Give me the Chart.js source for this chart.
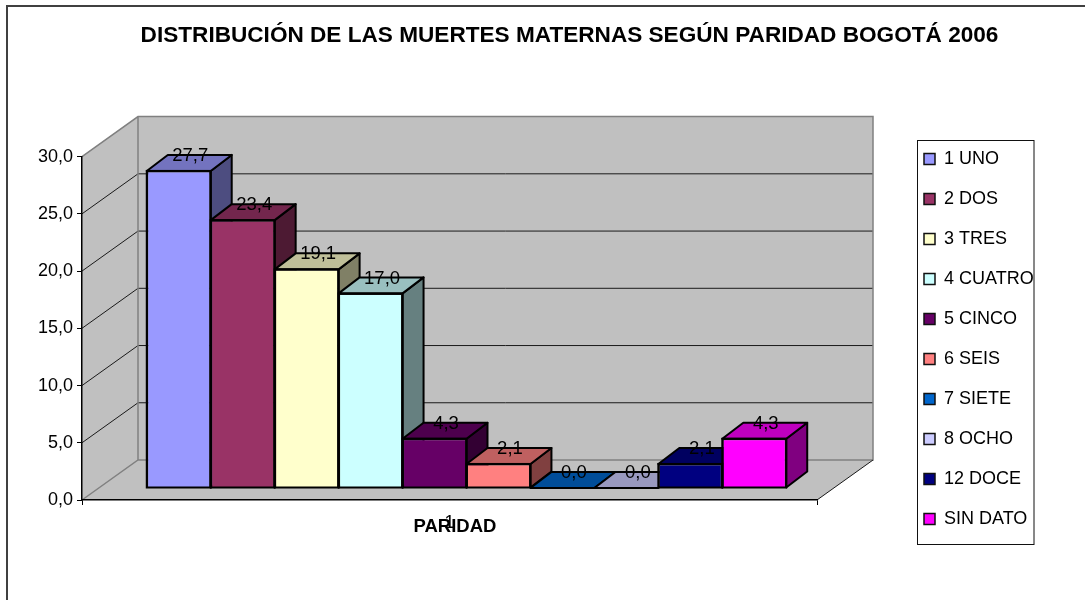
<!DOCTYPE html>
<html><head><meta charset="utf-8">
<style>html,body{margin:0;padding:0;background:#fff}#w{position:relative;width:1085px;height:600px}</style>
<script src="https://cdn.jsdelivr.net/npm/chart.js@4/dist/chart.umd.js"></script>
</head><body><div id="w"><canvas id="c" width="1085" height="600"></canvas></div>
<script>
const chartTitle = 'DISTRIBUCIÓN DE LAS MUERTES MATERNAS SEGÚN PARIDAD BOGOTÁ 2006';
const xAxisTitle = 'PARIDAD';
const categories = ['1'];
const seriesNames = ['1 UNO','2 DOS','3 TRES','4 CUATRO','5 CINCO','6 SEIS','7 SIETE','8 OCHO','12 DOCE','SIN DATO'];
const seriesValues = [27.7,23.4,19.1,17.0,4.3,2.1,0.0,0.0,2.1,4.3];
const seriesColors = ['#9999FF','#993366','#FFFFCC','#CCFFFF','#660066','#FF8080','#0066CC','#CCCCFF','#000080','#FF00FF'];

const FONT = 'Arial, "Liberation Sans", sans-serif';
const comma = v => Number(v).toFixed(1).replace('.', ',');
const shade = (hex, f) => {
  const n = parseInt(hex.slice(1), 16);
  return 'rgb(' + [(n>>16)&255,(n>>8)&255,n&255].map(c => Math.round(c*f)).join(',') + ')';
};
// 3D projection offsets
const WALL = {dx:56, dy:-40};     // front plane to back wall
const FRONT = {dx:17, dy:-12};    // front plane to bar front face
const DEPTH = {dx:21, dy:-16};    // bar front face to bar back face

function poly(ctx, pts, fill, stroke, lw){
  ctx.beginPath();
  pts.forEach((p,i)=> i ? ctx.lineTo(p[0],p[1]) : ctx.moveTo(p[0],p[1]));
  ctx.closePath();
  if(fill){ctx.fillStyle=fill;ctx.fill();}
  if(stroke){ctx.strokeStyle=stroke;ctx.lineWidth=lw;ctx.lineJoin='round';ctx.stroke();}
}
function faces(el){
  const half = el.width/2;
  return {l:el.x-half+FRONT.dx, r:el.x+half+FRONT.dx, t:el.y+FRONT.dy, b:el.base+FRONT.dy};
}
const barEls = chart => chart.data.datasets.map((d,i)=>chart.getDatasetMeta(i).data[0]);
const box3d = {
  id:'box3d',
  beforeLayout(chart){
    const lg = chart.legend;
    if(lg && !lg._wrapped){
      const u = lg.update.bind(lg);
      lg.update = (w,h,m) => u(w,600,m);
      lg._wrapped = true;
    }
  },
  afterLayout(chart){
    const t = chart.titleBlock;
    t.left = 100; t.right = 1039; t.width = 939; t.top = 24; t.bottom = 46;
    const lg = chart.legend;
    Object.assign(lg,{left:902,top:128,right:1060,bottom:560,width:158,height:432});
  },
  beforeDraw(chart){
    const {ctx,chartArea:a,scales:{y}} = chart;
    const L=a.left,R=a.right,T=a.top,B=a.bottom,dx=WALL.dx,dy=WALL.dy;
    ctx.save();
    ctx.fillStyle='#fff';ctx.fillRect(0,0,chart.width,chart.height);
    // frame
    ctx.strokeStyle='#404040';ctx.lineWidth=2;
    ctx.beginPath();ctx.moveTo(7,600);ctx.lineTo(7,6);ctx.lineTo(1085,6);ctx.stroke();
    // side wall, back wall, floor
    poly(ctx,[[L,T],[L+dx,T+dy],[L+dx,B+dy],[L,B]],'#C0C0C0');
    poly(ctx,[[L+dx,T+dy],[R+dx,T+dy],[R+dx,B+dy],[L+dx,B+dy]],'#C0C0C0');
    poly(ctx,[[L,B],[L+dx,B+dy],[R+dx,B+dy],[R,B]],'#C0C0C0');
    // gridlines
    ctx.strokeStyle='#1a1a1a';ctx.lineWidth=1;
    y.ticks.forEach(t=>{
      if(t.value<=0||t.value>=30) return;
      const p=y.getPixelForValue(t.value);
      ctx.beginPath();ctx.moveTo(L,p);ctx.lineTo(L+dx,p+dy);ctx.lineTo(R+dx,p+dy);ctx.stroke();
    });
    // gray wall edges
    ctx.strokeStyle='#808080';ctx.lineWidth=1.5;
    ctx.beginPath();ctx.moveTo(L,T);ctx.lineTo(L+dx,T+dy);ctx.lineTo(R+dx,T+dy);ctx.lineTo(R+dx,B+dy);
    ctx.lineTo(L+dx,B+dy);ctx.lineTo(L,B);ctx.moveTo(L+dx,T+dy);ctx.lineTo(L+dx,B+dy);ctx.stroke();
    // floor right edge
    ctx.strokeStyle='#1a1a1a';ctx.lineWidth=1;
    ctx.beginPath();ctx.moveTo(R,B);ctx.lineTo(R+dx,B+dy);ctx.stroke();
    ctx.restore();
  },
  beforeDatasetsDraw(chart){
    const ctx=chart.ctx;
    // side and top faces go behind the native front faces
    ctx.save();
    barEls(chart).forEach((el,i)=>{
      const c=seriesColors[i], f=faces(el), dx=DEPTH.dx, dy=DEPTH.dy;
      if(f.b-f.t>0.5) poly(ctx,[[f.r,f.t],[f.r+dx,f.t+dy],[f.r+dx,f.b+dy],[f.r,f.b]],shade(c,0.5),'#000',2);
      poly(ctx,[[f.l,f.t],[f.l+dx,f.t+dy],[f.r+dx,f.t+dy],[f.r,f.t]],shade(c,0.75),'#000',2);
    });
    ctx.restore();
    ctx.save();
    ctx.translate(FRONT.dx,FRONT.dy);
  },
  afterDatasetsDraw(chart){
    const ctx=chart.ctx;
    ctx.restore();
    ctx.save();
    const els = barEls(chart);
    els.forEach(el=>{
      const f=faces(el);
      if(f.b-f.t>0.5){
        ctx.strokeStyle='#000';ctx.lineWidth=2;ctx.strokeRect(f.l,f.t,f.r-f.l,f.b-f.t);
      }
    });
    // value labels
    ctx.font='18.5px '+FONT;ctx.fillStyle='#000';ctx.textAlign='center';ctx.textBaseline='middle';
    els.forEach((el,i)=>{
      const f=faces(el);
      ctx.fillText(comma(seriesValues[i]),(f.l+f.r)/2+11.5,f.t+DEPTH.dy+1);
    });
    ctx.restore();
  },
  afterDraw(chart){
    const ctx=chart.ctx;
    ctx.save();
    ctx.strokeStyle='#111';ctx.lineWidth=1;
    ctx.strokeRect(917.5,140.5,116.5,404);
    ctx.restore();
  }
};

new Chart(document.getElementById('c'),{
  type:'bar',
  data:{
    labels:categories,
    datasets:seriesNames.map((n,i)=>({
      label:n,data:[seriesValues[i]],backgroundColor:seriesColors[i],
      borderColor:'#111',borderWidth:1.5,clip:false
    }))
  },
  options:{
    responsive:false,animation:false,
    layout:{padding:{left:22,right:268,top:134,bottom:60}},
    datasets:{bar:{barPercentage:1,categoryPercentage:0.87}},
    scales:{
      x:{
        offset:true,
        afterFit:s=>{s.height=40;},
        afterUpdate:s=>{
          if(!s._shifted){
            const o=s.drawTitle.bind(s);
            s.drawTitle=(...a)=>{const c=s.ctx;c.save();c.translate(5.5,0);o(...a);c.restore();};
            s._shifted=true;
          }
        },
        grid:{display:true,drawOnChartArea:false,drawTicks:true,tickLength:5,color:'#000',lineWidth:1},
        border:{display:true,color:'#000',width:1.5},
        ticks:{color:'#000',font:{family:FONT,size:18},padding:7},
        title:{display:true,text:xAxisTitle,color:'#000',font:{family:FONT,size:18.5,weight:'bold'},padding:{top:0,bottom:1.5}}
      },
      y:{
        min:0,max:30,
        afterFit:s=>{s.width=60;},
        grid:{display:true,drawOnChartArea:false,drawTicks:true,tickLength:5,color:'#000',lineWidth:1},
        border:{display:true,color:'#000',width:1.5},
        ticks:{stepSize:5,color:'#000',font:{family:FONT,size:18},padding:4,callback:v=>comma(v)}
      }
    },
    plugins:{
      title:{display:true,text:chartTitle,color:'#000',font:{family:FONT,size:22.6,weight:'bold',lineHeight:1},padding:0},
      legend:{
        display:true,position:'chartArea',align:'start',
        labels:{boxWidth:11,boxHeight:11,padding:22,color:'#000',font:{family:FONT,size:18}}
      },
      tooltip:{enabled:false}
    }
  },
  plugins:[box3d]
});
</script></body></html>
